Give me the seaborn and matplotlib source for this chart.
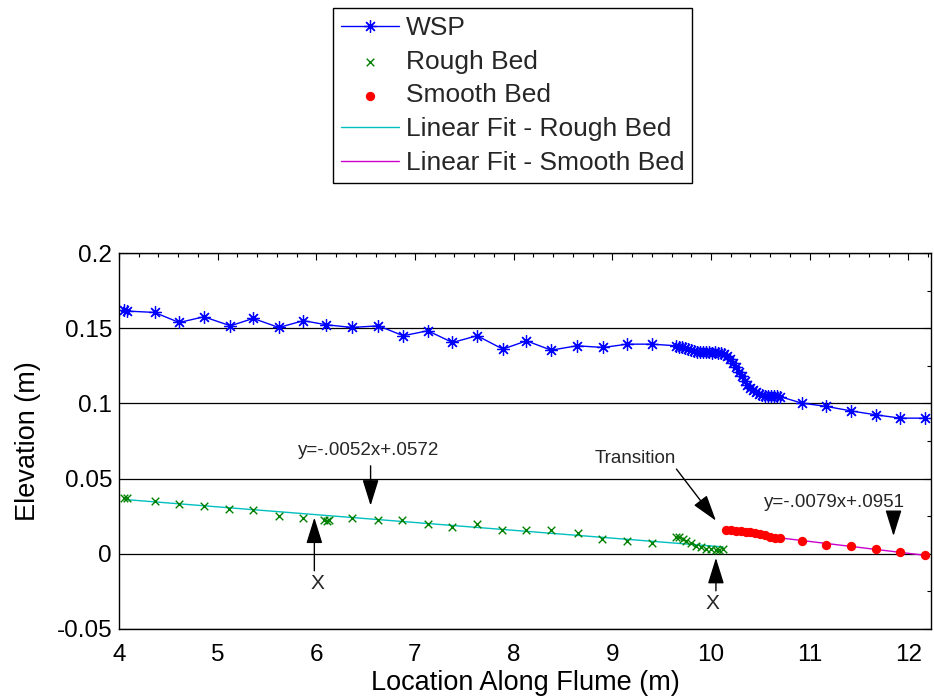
import matplotlib
matplotlib.use("Agg")
import matplotlib.pyplot as plt
import seaborn as sns
import numpy as np
import pandas as pd
from matplotlib.ticker import MultipleLocator, FuncFormatter

# ---------------- data ----------------
wsp_x = [4.05, 4.08, 4.36, 4.61, 4.86, 5.13, 5.36, 5.62, 5.87, 6.10, 6.36, 6.63, 6.88,
         7.13, 7.38, 7.63, 7.89, 8.13, 8.38, 8.64, 8.91, 9.15, 9.40, 9.65,
         9.68, 9.71, 9.74, 9.77, 9.80, 9.83, 9.86, 9.89, 9.92, 9.95, 9.98, 10.01,
         10.04, 10.07, 10.10, 10.13, 10.16, 10.19, 10.22, 10.25, 10.28, 10.31, 10.34,
         10.37, 10.40, 10.43, 10.46, 10.49, 10.52, 10.55, 10.58, 10.61, 10.64, 10.67,
         10.70, 10.92, 11.17, 11.42, 11.67, 11.92, 12.17]
wsp_y = [0.1618, 0.1614, 0.1605, 0.1538, 0.1576, 0.1516, 0.1565, 0.1505, 0.1550, 0.1523,
         0.1505, 0.1516, 0.1450, 0.1483, 0.1405, 0.1450, 0.1361, 0.1416, 0.1354, 0.1383,
         0.1372, 0.1394, 0.1394, 0.1383,
         0.1378, 0.1372, 0.1368, 0.1360, 0.1352, 0.1348, 0.1345, 0.1342, 0.1340, 0.1342,
         0.1340, 0.1338, 0.1340, 0.1338, 0.1336, 0.1330, 0.1318, 0.1295, 0.1270, 0.1240,
         0.1210, 0.1180, 0.1150, 0.1125, 0.1105, 0.1090, 0.1075, 0.1065, 0.1058, 0.1052,
         0.1050, 0.1048, 0.1047, 0.1046, 0.1045, 0.1002, 0.0980, 0.0950, 0.0924, 0.0902,
         0.0902]

rough_x = [4.05, 4.08, 4.36, 4.61, 4.86, 5.12, 5.36, 5.62, 5.87, 6.08, 6.11, 6.13, 6.36,
           6.63, 6.87, 7.13, 7.38, 7.63, 7.88, 8.13, 8.38, 8.65, 8.90, 9.15, 9.40,
           9.65, 9.68, 9.72, 9.75, 9.80, 9.85, 9.90, 9.95, 10.00, 10.05, 10.08, 10.12]
rough_y = [0.0372, 0.0368, 0.0352, 0.0330, 0.0319, 0.0297, 0.0290, 0.0253, 0.0235, 0.0225,
           0.0215, 0.0222, 0.0235, 0.0224, 0.0224, 0.0197, 0.0175, 0.0197, 0.0158, 0.0158,
           0.0158, 0.0135, 0.0097, 0.0082, 0.0075,
           0.0113, 0.0110, 0.0095, 0.0085, 0.0070, 0.0055, 0.0042, 0.0032, 0.0030, 0.0022,
           0.0025, 0.0030]

smooth_x = [10.15, 10.20, 10.25, 10.30, 10.35, 10.40, 10.45, 10.50, 10.55, 10.60, 10.65,
            10.70, 10.92, 11.17, 11.42, 11.67, 11.92, 12.17]
smooth_y = [0.0158, 0.0155, 0.0152, 0.0150, 0.0145, 0.0142, 0.0136, 0.0130, 0.0122, 0.0112,
            0.0106, 0.0103, 0.0082, 0.0060, 0.0049, 0.0031, 0.0009, -0.0009]

rough_fit = (-0.0052, 0.0572)    # slope, intercept
smooth_fit = (-0.0079, 0.0951)

x_ticks = [4, 5, 6, 7, 8, 9, 10, 11, 12]
y_ticks = [-0.05, 0, 0.05, 0.1, 0.15, 0.2]
labels = ["WSP", "Rough Bed", "Smooth Bed", "Linear Fit - Rough Bed", "Linear Fit - Smooth Bed"]

# ---------------- style ----------------
sns.set_theme(style="white")
plt.rcParams["font.family"] = ["Liberation Sans", "DejaVu Sans"]
plt.rcParams["axes.unicode_minus"] = False

FS = 17.5    # tick labels
LFS = 19.5   # axis labels
GFS = 19     # legend
fig = plt.figure(figsize=(9.34, 6.98), dpi=100)
ax = fig.add_axes([0.1274, 0.0989, 0.9968 - 0.1274, 0.6375 - 0.0989])

wsp_df = pd.DataFrame({"x": wsp_x, "y": wsp_y})
rough_df = pd.DataFrame({"x": rough_x, "y": rough_y})
smooth_df = pd.DataFrame({"x": smooth_x, "y": smooth_y})
rough_df["fit"] = rough_fit[0] * rough_df["x"] + rough_fit[1]
smooth_df["fit"] = smooth_fit[0] * smooth_df["x"] + smooth_fit[1]

blue = (0, 0, 1)
green = (0, 0.5, 0)
red = (1, 0, 0)
cyan = (0, 0.75, 0.75)
magenta = (0.8, 0, 0.8)

sns.lineplot(data=wsp_df, x="x", y="y", ax=ax, sort=False, estimator=None,
             color=blue, lw=1.0, marker=(8, 2, 0), markersize=9,
             markeredgecolor=blue, markeredgewidth=0.9, label=labels[0])
sns.scatterplot(data=rough_df, x="x", y="y", ax=ax, marker="x", s=30,
                color=green, linewidth=1.0, label=labels[1], zorder=3)
sns.scatterplot(data=smooth_df, x="x", y="y", ax=ax, marker="o", s=45,
                color=red, edgecolor=red, linewidth=0, label=labels[2], zorder=3)
sns.lineplot(data=rough_df, x="x", y="fit", ax=ax, sort=False, estimator=None,
             color=cyan, lw=1.0, label=labels[3])
sns.lineplot(data=smooth_df, x="x", y="fit", ax=ax, sort=False, estimator=None,
             color=magenta, lw=1.0, label=labels[4])

ax.set_xlim(4, 12.23)
ax.set_ylim(-0.05, 0.2)
ax.set_xticks(x_ticks)
ax.set_yticks(y_ticks)
ax.xaxis.set_minor_locator(MultipleLocator(0.2))
ax.yaxis.set_minor_locator(MultipleLocator(0.025))
ax.xaxis.set_major_formatter(FuncFormatter(lambda v, p: f"{v:g}"))
ax.yaxis.set_major_formatter(FuncFormatter(lambda v, p: f"{v:g}"))
ax.tick_params(which="both", direction="in", top=True, right=True, colors="black",
               labelsize=FS, width=0.8)
ax.tick_params(which="major", length=5)
ax.tick_params(axis="x", which="major", pad=11)
ax.tick_params(axis="y", which="major", pad=5)
ax.tick_params(which="minor", length=3)
ax.yaxis.grid(True, which="major", color="black", lw=0.9)
ax.xaxis.grid(False)
for s in ax.spines.values():
    s.set_color("black")
    s.set_linewidth(1.0)

ax.set_xlabel("Location Along Flume (m)", fontsize=LFS, color="black", labelpad=3)
ax.set_ylabel("Elevation (m)", fontsize=LFS, color="black", labelpad=11)

# annotations
afs = 13.5
arrow = dict(arrowstyle="-|>,head_length=0.9,head_width=0.28", color="black",
             lw=1.0, mutation_scale=18, shrinkA=0, shrinkB=0)
ax.text(6.53, 0.069, "y=-.0052x+.0572", fontsize=afs, ha="center", va="center")
ax.annotate("", xy=(6.55, 0.032), xytext=(6.55, 0.0585), arrowprops=arrow)
ax.text(6.01, -0.020, "X", fontsize=15, ha="center", va="center")
ax.annotate("", xy=(5.98, 0.0241), xytext=(5.98, -0.0113), arrowprops=arrow)
ax.text(9.23, 0.0636, "Transition", fontsize=afs, ha="center", va="center")
ax.annotate("", xy=(10.05, 0.022), xytext=(9.65, 0.0563), arrowprops=arrow)
ax.text(11.25, 0.0341, "y=-.0079x+.0951", fontsize=afs, ha="center", va="center")
ax.annotate("", xy=(11.85, 0.0118), xytext=(11.85, 0.0241), arrowprops=arrow)
ax.text(10.02, -0.0332, "X", fontsize=15, ha="center", va="center")
ax.annotate("", xy=(10.05, -0.0027), xytext=(10.05, -0.0246), arrowprops=arrow)

# legend
handles, labs = ax.get_legend_handles_labels()
ax.legend_.remove()
leg = fig.legend(handles, labs, loc="upper left", bbox_to_anchor=(0.3565, 0.9885),
                 bbox_transform=fig.transFigure, fontsize=GFS, frameon=True, fancybox=False,
                 edgecolor="black", framealpha=1, borderaxespad=0, handlelength=2.2,
                 handletextpad=0.25, labelspacing=0.37, borderpad=0.3)
leg.get_frame().set_linewidth(1.0)

fig.savefig("out.png", dpi=100)
